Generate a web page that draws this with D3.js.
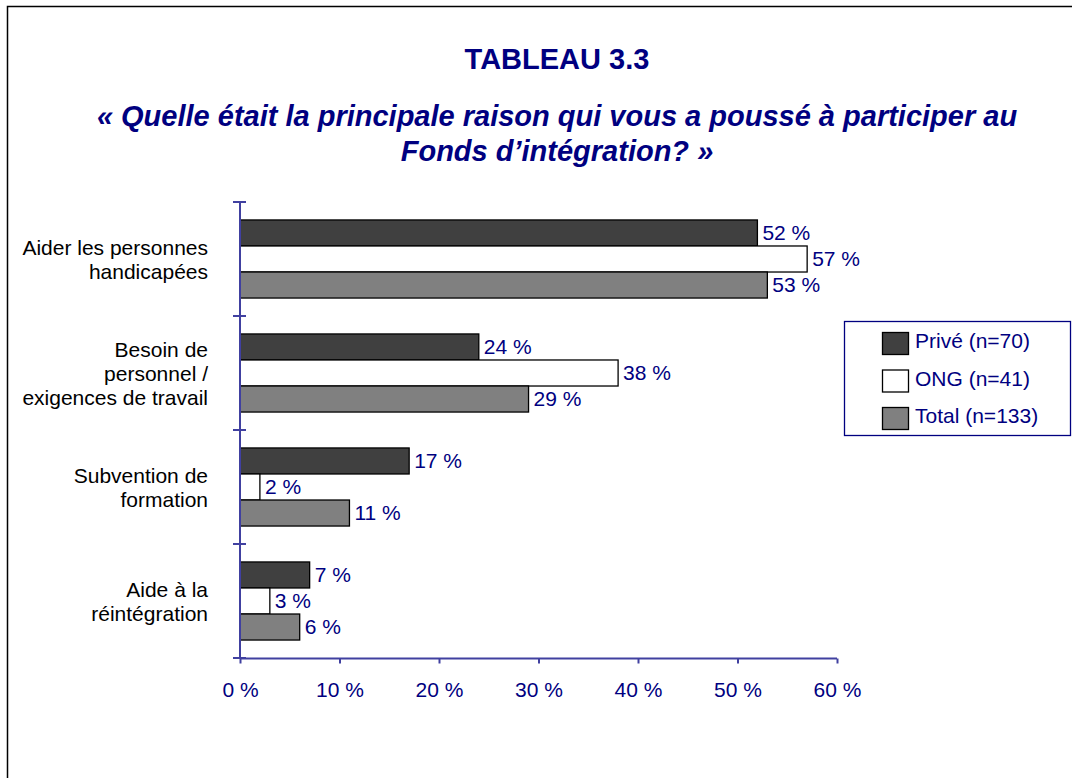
<!DOCTYPE html>
<html lang="fr">
    <head>
        <meta charset="utf-8">
        <title>Tableau 3.3</title>
        <script type="text/javascript" src="https://d3js.org/d3.v7.min.js"></script>
        <style type="text/css">
            body { margin: 0; background: #fff; }
            text { font-family: "Liberation Sans", Arial, sans-serif; }
        </style>
    </head>
    <body>
        <script type="text/javascript">

        const width = 1072;
        const height = 778;

        //Data
        const categories = [
            ["Aider les personnes", "handicapées"],
            ["Besoin de", "personnel /", "exigences de travail"],
            ["Subvention de", "formation"],
            ["Aide à la", "réintégration"]
        ];
        const seriesNames = ["Privé (n=70)", "ONG (n=41)", "Total (n=133)"];
        const prive = [52, 24, 17, 7];
        const ong = [57, 38, 2, 3];
        const total = [53, 29, 11, 6];
        const xTicks = [0, 10, 20, 30, 40, 50, 60];

        const series = [prive, ong, total];
        const fills = ["#404040", "#ffffff", "#808080"];
        const navy = "#000080";
        const axisColor = "#4040a0";

        //Scales
        const xScale = d3.scaleLinear()
                        .domain([0, 60])
                        .range([240, 837]);

        const yScale = d3.scaleBand()
                        .domain(d3.range(categories.length))
                        .range([202, 658]);

        const inner = d3.scaleBand()
                        .domain(d3.range(series.length))
                        .range([0, yScale.bandwidth()])
                        .paddingOuter(0.69);

        //SVG
        const svg = d3.select("body")
                    .append("svg")
                    .attr("width", width)
                    .attr("height", height);

        svg.append("rect")
            .attr("x", 7.5).attr("y", 6.5)
            .attr("width", width + 10).attr("height", height + 10)
            .attr("fill", "none")
            .attr("stroke", "black")
            .attr("stroke-width", 1.5);

        //Titles
        svg.append("text")
            .attr("x", 557).attr("y", 69)
            .attr("text-anchor", "middle")
            .attr("font-size", 29).attr("font-weight", "bold")
            .attr("fill", navy)
            .text("TABLEAU 3.3");

        const sub = ["« Quelle était la principale raison qui vous a poussé à participer au",
                     "Fonds d’intégration? »"];
        svg.selectAll(".sub")
            .data(sub)
            .enter()
            .append("text")
            .attr("x", 557)
            .attr("y", (d, i) => 126 + i * 35)
            .attr("text-anchor", "middle")
            .attr("font-size", 29).attr("font-weight", "bold").attr("font-style", "italic")
            .attr("fill", navy)
            .text(d => d);

        //Bars
        series.forEach((vals, s) => {
            const g = svg.append("g");
            g.selectAll("rect")
                .data(vals)
                .enter()
                .append("rect")
                .attr("x", xScale(0))
                .attr("y", (d, i) => yScale(i) + inner(s))
                .attr("width", d => xScale(d) - xScale(0))
                .attr("height", inner.bandwidth())
                .attr("fill", fills[s])
                .attr("stroke", "black")
                .attr("stroke-width", 1.3);

            g.selectAll("text")
                .data(vals)
                .enter()
                .append("text")
                .attr("x", d => xScale(d) + 5)
                .attr("y", (d, i) => yScale(i) + inner(s) + inner.bandwidth() / 2 + 7)
                .attr("font-size", 21)
                .attr("fill", navy)
                .text(d => d + " %");
        });

        //Axes
        const bottomAxis = d3.axisBottom(xScale)
                            .tickValues(xTicks)
                            .tickSize(5)
                            .tickSizeOuter(5)
                            .tickFormat(d => d + " %");

        const xg = svg.append("g")
            .attr("transform", "translate(0,658.5)")
            .call(bottomAxis);
        xg.select(".domain").attr("stroke", axisColor).attr("stroke-width", 2).attr("d", "M240,0H837");
        xg.selectAll(".tick line").attr("stroke", axisColor).attr("stroke-width", 2);
        xg.selectAll(".tick text")
            .attr("y", 38.5)
            .attr("dy", null)
            .attr("font-size", 21)
            .attr("font-family", "'Liberation Sans', Arial, sans-serif")
            .attr("fill", navy);

        const yg = svg.append("g");
        yg.append("line")
            .attr("x1", 240).attr("x2", 240)
            .attr("y1", yScale.range()[0]).attr("y2", yScale.range()[1])
            .attr("stroke", axisColor).attr("stroke-width", 2);
        yg.selectAll(".ytick")
            .data(d3.range(categories.length + 1))
            .enter()
            .append("line")
            .attr("x1", 233).attr("x2", 246)
            .attr("y1", i => 202 + i * yScale.step())
            .attr("y2", i => 202 + i * yScale.step())
            .attr("stroke", axisColor).attr("stroke-width", 2);

        //Category labels
        categories.forEach((lines, i) => {
            const cy = yScale(i) + yScale.bandwidth() / 2;
            const lh = 24;
            svg.append("text")
                .attr("text-anchor", "end")
                .attr("font-size", 21)
                .attr("fill", "black")
                .selectAll("tspan")
                .data(lines)
                .enter()
                .append("tspan")
                .attr("x", 208)
                .attr("y", (d, k) => cy + (k - (lines.length - 1) / 2) * lh + 8)
                .text(d => d);
        });

        //Legend
        const legend = svg.append("g");
        legend.append("rect")
            .attr("x", 844.5).attr("y", 321.5)
            .attr("width", 226).attr("height", 114)
            .attr("fill", "white")
            .attr("stroke", navy).attr("stroke-width", 1.3);

        seriesNames.forEach((name, s) => {
            legend.append("rect")
                .attr("x", 882.5).attr("y", 332.5 + s * 37.5)
                .attr("width", 26).attr("height", 22)
                .attr("fill", fills[s])
                .attr("stroke", "black").attr("stroke-width", 1.3);
            legend.append("text")
                .attr("x", 915).attr("y", 348 + s * 37.5)
                .attr("font-size", 21)
                .attr("fill", navy)
                .text(name);
        });

        </script>
    </body>
</html>
